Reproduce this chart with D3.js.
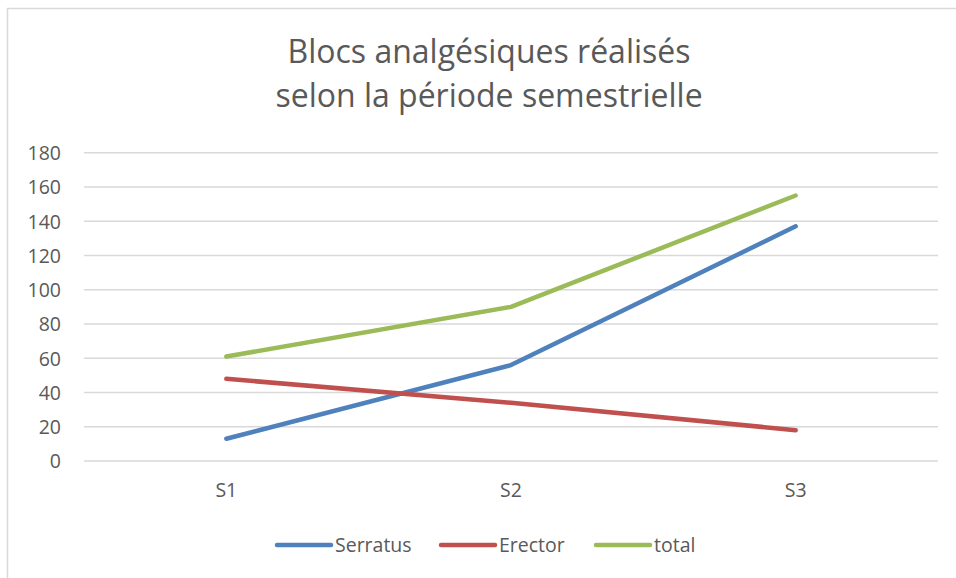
<!DOCTYPE html>
<html><head><meta charset="utf-8">
<script src="https://cdn.jsdelivr.net/npm/d3@7"></script>
<style>
body{margin:0;background:#fff;}
text{font-family:"Open Sans",sans-serif;fill:#595959;}
</style></head>
<body><svg id="c" width="956" height="578"></svg>
<script>
const categories = ["S1","S2","S3"];
const seriesNames = ["Serratus","Erector","total"];
const serratus = [13,56,137];
const erector = [48,34,18];
const total = [61,90,155];
const yTicks = [0,20,40,60,80,100,120,140,160,180];
const titleLines = ["Blocs analgésiques réalisés","selon la période semestrielle"];
const colors = ["#4f81bd","#c0504d","#9bbb59"];

(function(){
const series = [serratus, erector, total];
const svg = d3.select("#c");
svg.append("rect").attr("x",0).attr("y",0).attr("width",956).attr("height",578).attr("fill","#fff");
svg.append("path").attr("d","M7.5,578 V8.5 H956").attr("fill","none").attr("stroke","#d9d9d9").attr("stroke-width",1.5);

const pLeft=84, pRight=938, pTop=152.7, pBottom=461;
const x = d3.scaleBand().domain(categories).range([pLeft,pRight]);
const y = d3.scaleLinear().domain([0,180]).range([pBottom,pTop]);

svg.append("text").attr("text-anchor","middle").attr("font-size",32)
  .selectAll("tspan").data(titleLines).join("tspan")
  .attr("x",489).attr("y",(d,i)=>63+i*44).text(d=>d);

svg.append("g").selectAll("line").data(yTicks).join("line")
  .attr("x1",pLeft).attr("x2",pRight).attr("y1",d=>y(d)).attr("y2",d=>y(d))
  .attr("stroke","#d9d9d9").attr("stroke-width",1.5);

const yAxis = d3.axisLeft(y).tickValues(yTicks).tickSize(0).tickPadding(0);
const gy = svg.append("g").attr("transform","translate(61,0)").call(yAxis);
gy.select(".domain").remove();
gy.selectAll("text").attr("font-size",19.5).attr("font-family","Open Sans").attr("fill","#595959").attr("dy","0.35em");

const xAxis = d3.axisBottom(x).tickSize(0).tickPadding(0);
const gx = svg.append("g").attr("transform","translate(0,483)").call(xAxis);
gx.select(".domain").remove();
gx.selectAll("text").attr("font-size",19.5).attr("font-family","Open Sans").attr("fill","#595959").attr("dy","0.71em");

const line = d3.line().x((d,i)=>x(categories[i])+x.bandwidth()/2).y(d=>y(d));
series.forEach((s,k)=>{
  svg.append("path").datum(s).attr("d",line).attr("fill","none")
    .attr("stroke",colors[k]).attr("stroke-width",4.5).attr("stroke-linecap","round").attr("stroke-linejoin","round");
});

const legX = [277,441,596];
const lg = svg.append("g");
seriesNames.forEach((n,k)=>{
  lg.append("line").attr("x1",legX[k]).attr("x2",legX[k]+54).attr("y1",545).attr("y2",545)
    .attr("stroke",colors[k]).attr("stroke-width",4.5).attr("stroke-linecap","round");
  lg.append("text").attr("x",legX[k]+58).attr("y",545).attr("dy","0.35em").attr("font-size",19.5).text(n);
});
})();
</script></body></html>
